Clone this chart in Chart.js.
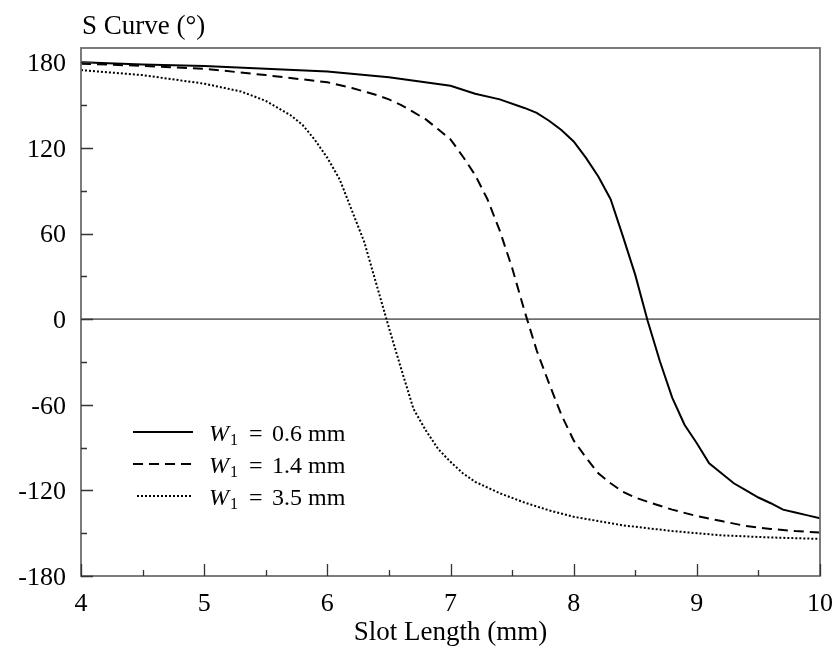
<!DOCTYPE html>
<html><head><meta charset="utf-8">
<script src="https://cdn.jsdelivr.net/npm/chart.js@4.4.1/dist/chart.umd.min.js"></script>
<style>html,body{margin:0;padding:0;background:#fff}#wrap{width:838px;height:658px}</style>
</head><body><div id="wrap"><canvas id="c" width="838" height="658"></canvas></div>
<script>
const xTicks = [4,5,6,7,8,9,10];
const yTicks = [-180,-120,-60,0,60,120,180];
const seriesNames = ['0.6 mm','1.4 mm','3.5 mm'];

const xSolid = [4,4.5,5,5.5,6,6.5,7,7.2,7.4,7.6,7.7,7.8,7.9,8,8.1,8.2,8.3,8.4,8.5,8.6,8.7,8.8,8.9,9,9.1,9.2,9.3,9.4,9.5,9.6,9.7,9.8,9.9,10];
const ySolid = [180,178.5,177.3,175.5,173.5,169.5,163.5,158,154,148,144.5,139,132.5,124.5,113,100,84,58,31,-1,-29.5,-55,-74,-87,-101,-108,-115,-120,-125,-129,-133.5,-135.5,-137.5,-139.5];

const xDash = [4,4.5,5,5.5,6,6.2,6.4,6.5,6.6,6.7,6.8,6.9,7,7.1,7.2,7.3,7.4,7.5,7.6,7.7,7.8,7.9,8,8.1,8.2,8.3,8.4,8.5,8.6,8.8,9,9.2,9.4,9.6,9.8,10];
const yDash = [179,177.5,175.5,171,166,162,157,154,150,145,140,133,126,114,101,84,62,36,6,-22,-45,-67,-85,-97,-108,-115,-121,-125,-128,-133.5,-138,-141.5,-145,-147,-148.5,-149.5];

const xDot = [4,4.5,5,5.3,5.5,5.7,5.8,5.9,6,6.1,6.2,6.3,6.4,6.5,6.6,6.7,6.8,6.9,7,7.1,7.2,7.4,7.6,7.8,8,8.4,8.8,9.2,9.6,10];
const yDot = [174.5,171,165,159.5,153,143,136,125.5,113,98,76,54,24,-6,-35,-63,-78,-91,-100,-108,-114,-122,-128.5,-134,-138.5,-144.5,-148.5,-151.5,-153,-154];

const pts = (xs, ys) => xs.map((x,i)=>({x, y: ys[i]}));
const FONT = '"Liberation Serif","Times New Roman",serif';

const decor = {
  id: 'decor',
  beforeDatasetsDraw(chart) {
    const {ctx, chartArea: a, scales: {y}} = chart;
    ctx.save();
    ctx.strokeStyle = '#6e6e6e'; ctx.lineWidth = 1.6;
    const y0 = y.getPixelForValue(0);
    ctx.beginPath(); ctx.moveTo(a.left, y0); ctx.lineTo(a.right, y0); ctx.stroke();
    ctx.restore();
  },
  afterDatasetsDraw(chart) {
    const {ctx, chartArea: a, scales: {x, y}} = chart;
    ctx.save();
    ctx.strokeStyle = '#6e6e6e'; ctx.lineWidth = 1.8;
    ctx.strokeRect(a.left, a.top, a.right - a.left, a.bottom - a.top);
    ctx.strokeStyle = '#333'; ctx.lineWidth = 1.3;
    ctx.beginPath();
    for (let v = 4; v <= 10.001; v += 0.5) {
      const px = Math.round(x.getPixelForValue(v)) + 0.5;
      const len = Math.abs(v - Math.round(v)) < 1e-6 ? 12 : 6;
      ctx.moveTo(px, a.bottom); ctx.lineTo(px, a.bottom - len);
    }
    for (let v = -180; v <= 180; v += 30) {
      const py = Math.round(y.getPixelForValue(v)) + 0.5;
      const len = (v % 60 === 0) ? 12 : 6;
      ctx.moveTo(a.left, py); ctx.lineTo(a.left + len, py);
    }
    ctx.stroke();
    ctx.fillStyle = '#000';
    ctx.font = '27px ' + FONT;
    ctx.textBaseline = 'alphabetic'; ctx.textAlign = 'left';
    ctx.fillText('S Curve (\u00B0)', a.left + 1, 34);
    const rows = [433, 465, 497];
    chart.data.datasets.forEach((ds, i) => {
      const ry = rows[i];
      ctx.save();
      ctx.strokeStyle = '#000';
      ctx.lineWidth = ds.borderWidth;
      ctx.setLineDash(ds.borderDash || []);
      ctx.beginPath();
      const x1 = i === 2 ? 137 : 133, x2 = i === 2 ? 192 : 193;
      ctx.moveTo(x1, ry - 1); ctx.lineTo(x2, ry - 1); ctx.stroke();
      ctx.restore();
      const base = ry + 8;
      ctx.font = 'italic 24px ' + FONT;
      ctx.fillText('W', 209, base);
      ctx.font = '16px ' + FONT;
      ctx.fillText('1', 230, base + 4);
      ctx.font = '24px ' + FONT;
      ctx.fillText('=', 249, base);
      ctx.fillText(seriesNames[i], 272, base);
    });
    ctx.restore();
  }
};

new Chart(document.getElementById('c'), {
  type: 'line',
  data: {
    datasets: [
      {label: 'W1 = ' + seriesNames[0], data: pts(xSolid, ySolid), borderColor: '#000', borderWidth: 2, pointRadius: 0, tension: 0, fill: false},
      {label: 'W1 = ' + seriesNames[1], data: pts(xDash, yDash), borderColor: '#000', borderWidth: 2, borderDash: [10, 6], pointRadius: 0, tension: 0, fill: false},
      {label: 'W1 = ' + seriesNames[2], data: pts(xDot, yDot), borderColor: '#000', borderWidth: 2, borderDash: [2, 2], pointRadius: 0, tension: 0, fill: false}
    ]
  },
  options: {
    responsive: false,
    animation: false,
    layout: {padding: {left: 0, right: 18, top: 48, bottom: 0}},
    plugins: {legend: {display: false}, tooltip: {enabled: false}, title: {display: false}},
    scales: {
      x: {
        type: 'linear', min: 4, max: 10,
        afterBuildTicks: s => { s.ticks = xTicks.map(v => ({value: v})); },
        afterFit: s => { s.height = 82; s.paddingRight = 0; s.paddingLeft = 0; },
        grid: {display: false, drawTicks: false},
        border: {display: false},
        ticks: {color: '#000', font: {family: FONT, size: 26}, padding: 13, maxRotation: 0, autoSkip: false,
                callback: v => String(v)},
        title: {display: true, text: 'Slot Length (mm)', color: '#000', font: {family: FONT, size: 27}, padding: {top: 2, bottom: 9}}
      },
      y: {
        type: 'linear', min: -180, max: 190,
        afterBuildTicks: s => { s.ticks = yTicks.map(v => ({value: v})); },
        afterFit: s => { s.width = 81; s.paddingTop = 0; s.paddingBottom = 0; },
        grid: {display: false, drawTicks: false},
        border: {display: false},
        ticks: {color: '#000', font: {family: FONT, size: 26}, padding: 15, labelOffset: 2, autoSkip: false,
                callback: v => String(v)}
      }
    }
  },
  plugins: [decor]
});
</script></body></html>
